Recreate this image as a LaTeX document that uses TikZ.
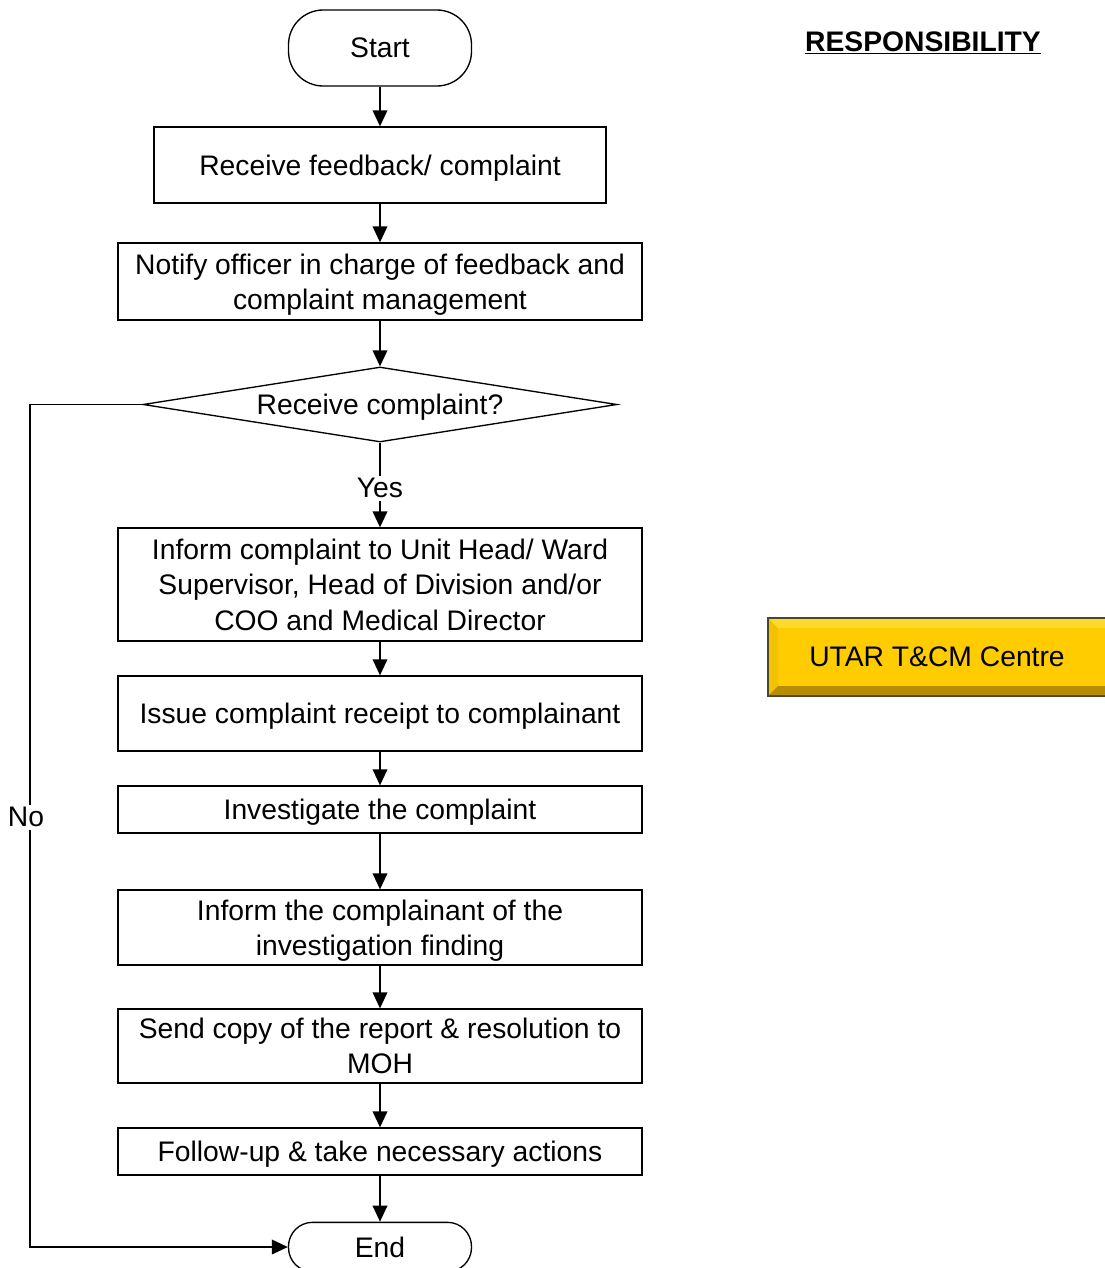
\documentclass[tikz,border=0pt]{standalone}
\usepackage{fontspec}
\setmainfont{Liberation Sans}
\usetikzlibrary{shapes.geometric,arrows.meta}
\definecolor{goldfill}{HTML}{FFCC00}
\definecolor{goldtop}{HTML}{FFDA2E}
\definecolor{goldleft}{HTML}{F2C200}
\definecolor{goldbottom}{HTML}{B88C00}
\definecolor{golddark}{HTML}{4A4630}
\tikzset{
  every node/.style={font=\fontsize{21.2pt}{26.6pt}\selectfont, text=black},
  procbox/.style={draw=black, line width=1pt, rectangle, align=center, inner sep=0pt, minimum width=393pt, text depth=0pt},
  termbox/.style={draw=black, line width=1pt, rectangle, rounded corners=26pt, minimum width=137.25pt, inner sep=0pt},
  decbox/.style={draw=black, line width=1pt, shape=diamond, aspect=6.3, inner sep=0pt, minimum width=355.5pt, minimum height=56.25pt, text depth=0pt},
  arr/.style={line width=1.1pt, -{Triangle[length=12pt,width=11pt]}},
  lab/.style={fill=white, inner sep=2pt}
}
\begin{document}
\begin{tikzpicture}[x=0.75pt,y=-0.75pt]
\useasboundingbox (0,0) rectangle (1104,1268);
% flow
\node[termbox, minimum height=57pt] (start) at (380,48) {Start};
\node[procbox, minimum width=339pt, minimum height=57pt] (recv) at (380,165) {Receive feedback/ complaint};
\node[procbox, minimum height=57.75pt] (notify) at (380,281.5) {Notify officer in charge of feedback and\\complaint management};
\node[decbox] (dec) at (380,404.5) {Receive complaint?};
\node[procbox, minimum height=84.75pt] (inform) at (380,584.5) {Inform complaint to Unit Head/ Ward\\Supervisor, Head of Division and/or\\COO and Medical Director};
\node[procbox, minimum height=56.25pt] (issue) at (380,713.5) {Issue complaint receipt to complainant};
\node[procbox, minimum height=35.25pt] (invest) at (380,809.5) {Investigate the complaint};
\node[procbox, minimum height=56.25pt] (informc) at (380,927.5) {Inform the complainant of the\\investigation finding};
\node[procbox, minimum height=55.5pt] (send) at (380,1046) {Send copy of the report \& resolution to\\MOH};
\node[procbox, minimum height=35.25pt] (follow) at (380,1151.5) {Follow-up \& take necessary actions};
\node[termbox, minimum height=37pt, rounded corners=18pt] (end) at (380,1247) {End};
% connectors
\draw[arr] (start) -- (recv);
\draw[arr] (recv) -- (notify);
\draw[arr] (notify) -- (dec.north);
\draw[arr] (dec.south) -- node[lab, pos=0.54]{Yes} (inform);
\draw[arr] (inform) -- (issue);
\draw[arr] (issue) -- (invest);
\draw[arr] (invest) -- (informc);
\draw[arr] (informc) -- (send);
\draw[arr] (send) -- (follow);
\draw[arr] (follow) -- (end);
\coordinate (n1) at (30,404.5);
\coordinate (n2) at (30,1247);
\draw[arr] (dec.west) -- (n1) -- node[lab, pos=0.49, xshift=-3pt]{No} (n2) -- (end.west);
% responsibility
\node (resp) at (923,43) {\bfseries\underline{RESPONSIBILITY}};
\fill[golddark] (767,617) rectangle (1112,697);
\fill[goldfill] (769,619) rectangle (1112,695);
\fill[goldtop] (769,619) -- (1112,619) -- (1112,628) -- (778,628) -- cycle;
\fill[goldleft] (769,619) -- (778,628) -- (778,686) -- (769,695) -- cycle;
\fill[goldbottom] (769,695) -- (778,686) -- (1112,686) -- (1112,695) -- cycle;
\node (utar) at (937,657) {UTAR T\&CM Centre};
\end{tikzpicture}
\end{document}
